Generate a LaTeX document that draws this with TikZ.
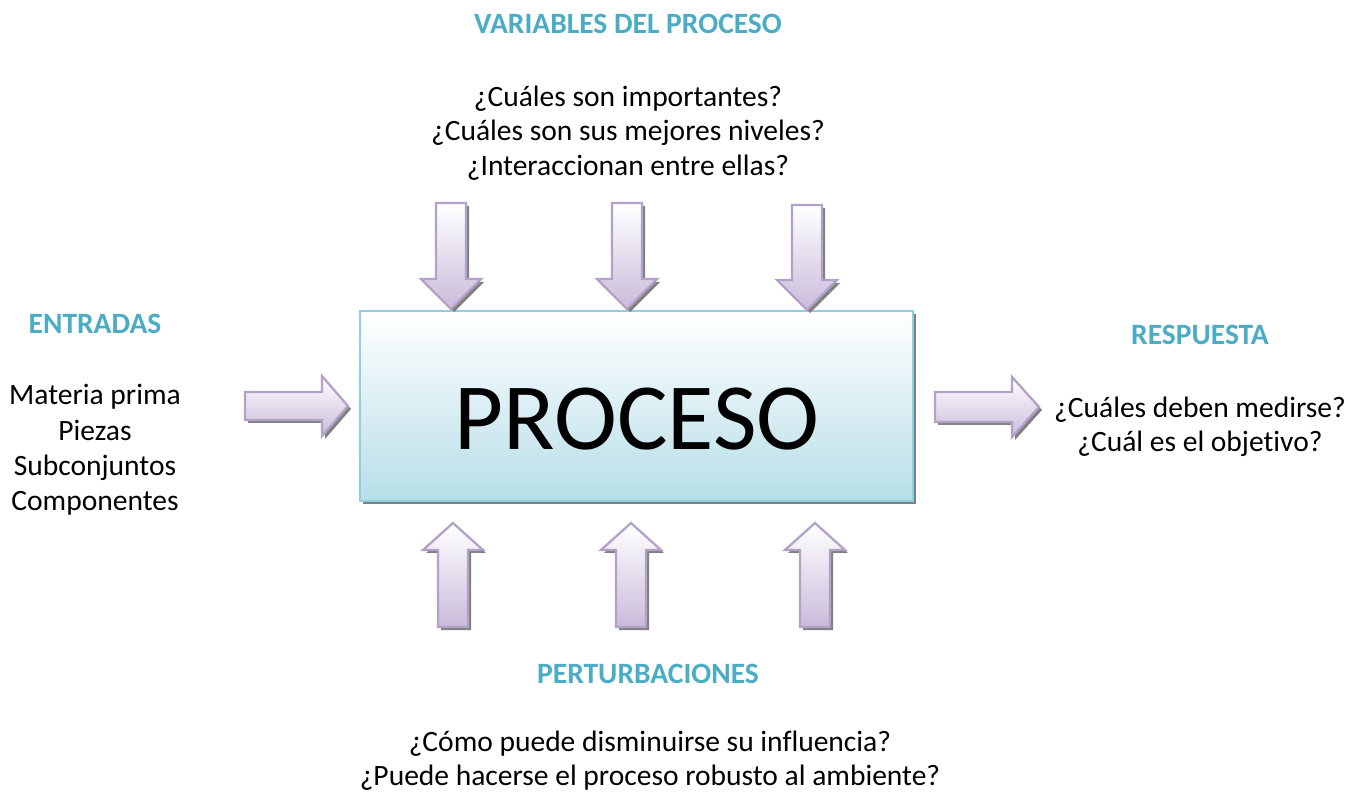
\documentclass[tikz,border=0pt]{standalone}
\usepackage{fontspec}
\setmainfont{Carlito}[Ligatures=NoCommon]

\definecolor{titulo}{HTML}{4BACC6}
\definecolor{flechaborde}{HTML}{B3A2C7}
\definecolor{flecharelleno}{HTML}{C9BBDB}
\definecolor{cajaborde}{HTML}{8ED0DD}
\definecolor{cajarelleno}{HTML}{B7DEE8}

\tikzset{
  flecha/.style={draw=flechaborde, line width=1.3pt, top color=white, bottom color=flecharelleno},
  sombra/.style={fill=black!50, draw=none},
  caja/.style={draw=cajaborde, line width=1.3pt, top color=white, bottom color=cajarelleno},
  encabezado/.style={font=\fontsize{16.8}{19.4}\selectfont\bfseries, text=titulo},
  texto/.style={font=\fontsize{16.8}{19.6}\selectfont, align=center},
}

\begin{document}
\begin{tikzpicture}[x=0.02cm, y=-0.02cm]
  \useasboundingbox (0,0) rectangle (1349,793);

  \filldraw[sombra] (363,314) rectangle (916,504);
  \filldraw[caja] (360,311) rectangle (913,501);
  \node[font=\fontsize{54}{60}\selectfont] (proceso) at (637,419) {PROCESO};

  \filldraw[sombra, shift={(3,3)}] (436,203) -- (466,203) -- (466,279) -- (481,279) -- (451,309) -- (421,279) -- (436,279) -- cycle;
  \filldraw[flecha] (436,203) -- (466,203) -- (466,279) -- (481,279) -- (451,309) -- (421,279) -- (436,279) -- cycle;
  \filldraw[sombra, shift={(3,3)}] (612,203) -- (642,203) -- (642,279) -- (657,279) -- (627,309) -- (597,279) -- (612,279) -- cycle;
  \filldraw[flecha] (612,203) -- (642,203) -- (642,279) -- (657,279) -- (627,309) -- (597,279) -- (612,279) -- cycle;
  \filldraw[sombra, shift={(3,3)}] (792,205) -- (822,205) -- (822,280) -- (837,280) -- (807,310) -- (777,280) -- (792,280) -- cycle;
  \filldraw[flecha] (792,205) -- (822,205) -- (822,280) -- (837,280) -- (807,310) -- (777,280) -- (792,280) -- cycle;

  \filldraw[sombra, shift={(3,3)}] (438,627) -- (468,627) -- (468,550) -- (483,550) -- (453,523) -- (423,550) -- (438,550) -- cycle;
  \filldraw[flecha] (438,627) -- (468,627) -- (468,550) -- (483,550) -- (453,523) -- (423,550) -- (438,550) -- cycle;
  \filldraw[sombra, shift={(3,3)}] (616,627) -- (646,627) -- (646,550) -- (661,550) -- (631,523) -- (601,550) -- (616,550) -- cycle;
  \filldraw[flecha] (616,627) -- (646,627) -- (646,550) -- (661,550) -- (631,523) -- (601,550) -- (616,550) -- cycle;
  \filldraw[sombra, shift={(3,3)}] (800,627) -- (830,627) -- (830,550) -- (845,550) -- (815,523) -- (785,550) -- (800,550) -- cycle;
  \filldraw[flecha] (800,627) -- (830,627) -- (830,550) -- (845,550) -- (815,523) -- (785,550) -- (800,550) -- cycle;

  \filldraw[sombra, shift={(3,3)}] (245,392) -- (322,392) -- (322,376) -- (348,406) -- (322,436) -- (322,420) -- (245,420) -- cycle;
  \filldraw[flecha] (245,392) -- (322,392) -- (322,376) -- (348,406) -- (322,436) -- (322,420) -- (245,420) -- cycle;
  \filldraw[sombra, shift={(3,3)}] (935,392) -- (1012,392) -- (1012,377) -- (1039,407) -- (1012,437) -- (1012,422) -- (935,422) -- cycle;
  \filldraw[flecha] (935,392) -- (1012,392) -- (1012,377) -- (1039,407) -- (1012,437) -- (1012,422) -- (935,422) -- cycle;

  \node[encabezado] (variables) at (628,24) {VARIABLES DEL PROCESO};
  \node[texto] (preguntasvar) at (628,133) {¿Cuáles son importantes?\\¿Cuáles son sus mejores niveles?\\¿Interaccionan entre ellas?};
  \node[encabezado] (entradas) at (95,324) {ENTRADAS};
  \node[texto, font=\fontsize{16.8}{20.1}\selectfont] (listaentradas) at (95,450) {Materia prima\\Piezas\\Subconjuntos\\Componentes};
  \node[encabezado] (respuesta) at (1200,335) {RESPUESTA};
  \node[texto] (preguntasresp) at (1200,427) {¿Cuáles deben medirse?\\¿Cuál es el objetivo?};
  \node[encabezado] (perturbaciones) at (648,674) {PERTURBACIONES};
  \node[texto] (preguntaspert) at (650,761) {¿Cómo puede disminuirse su influencia?\\¿Puede hacerse el proceso robusto al ambiente?};
\end{tikzpicture}
\end{document}
